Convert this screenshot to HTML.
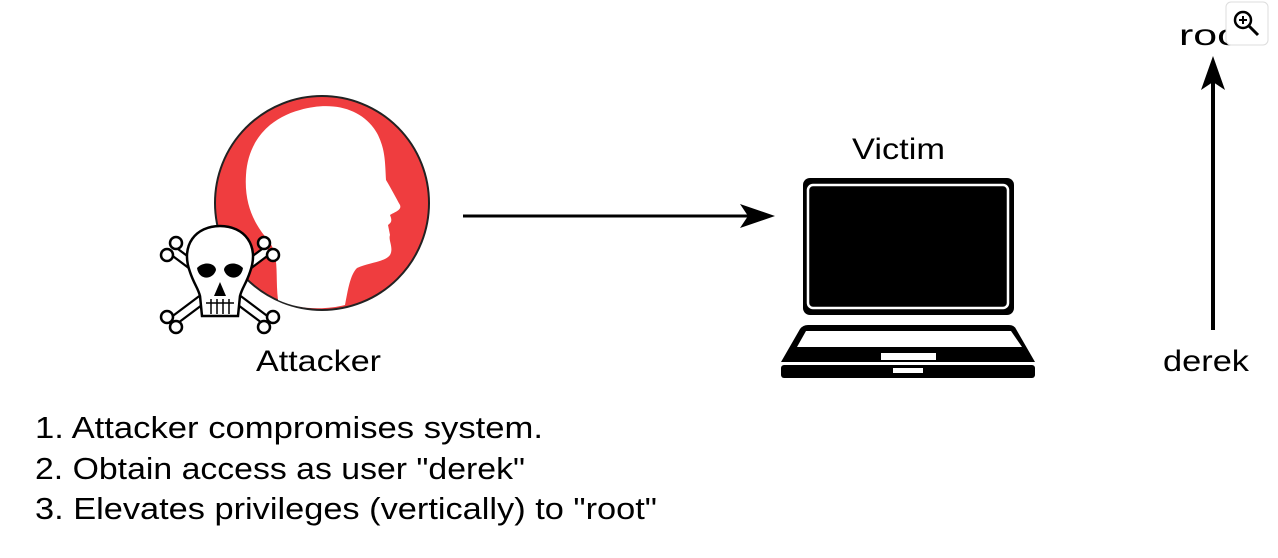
<!DOCTYPE html>
<html><head><meta charset="utf-8"><style>
html,body{margin:0;padding:0;background:#fff;width:1278px;height:558px;overflow:hidden}
svg{display:block}
text{font-family:"Liberation Sans",sans-serif;fill:#000}
</style></head><body>
<svg width="1278" height="558" viewBox="0 0 1278 558" xmlns="http://www.w3.org/2000/svg">
<!-- attacker circle -->
<circle cx="322" cy="203" r="107" fill="#ef3d3f" stroke="#222" stroke-width="2"/>
<path d="M345,305 C348,290 350,275 357,268 C370,262 385,262 390,255 C394,248 388,240 390,235 L388,225 C392,222 392,220 390,215 C395,212 402,210 400,205 C396,198 392,190 386,180 C385,160 385,150 378,135 C365,110 335,100 300,110 C270,118 248,140 246,175 C244,205 255,225 268,240 C280,255 275,275 278,300 C300,310 325,310 345,305 Z" fill="#fff"/>
<!-- skull and bones -->
<g stroke="#000" stroke-width="2.5" fill="#fff">
<path d="M172,250 L268,322 M268,250 L172,322" stroke-width="11" stroke="#000"/>
<path d="M172,250 L268,322 M268,250 L172,322" stroke-width="6.5" stroke="#fff"/>
<circle cx="167" cy="255" r="6"/><circle cx="176" cy="243" r="6"/>
<circle cx="273" cy="255" r="6"/><circle cx="264" cy="243" r="6"/>
<circle cx="167" cy="317" r="6"/><circle cx="176" cy="327" r="6"/>
<circle cx="273" cy="317" r="6"/><circle cx="264" cy="327" r="6"/>
<path d="M190,272 C180,245 196,226 220,226 C244,226 260,245 250,272 C246,284 242,288 240,296 L238,316 L202,316 L200,296 C198,288 194,284 190,272 Z"/>
</g>
<path d="M197,268 C205,260 216,264 216,270 C213,280 199,281 197,268 Z M243,268 C235,260 224,264 224,270 C227,280 241,281 243,268 Z M220,282 L214,296 L226,296 Z" fill="#000"/>
<path d="M206,303 L234,303 M211,299 L211,314 M217,299 L217,314 M223,299 L223,314 M229,299 L229,314" stroke="#000" stroke-width="1.5"/>
<!-- arrow -->
<line x1="463" y1="216" x2="755" y2="216" stroke="#000" stroke-width="3"/>
<path d="M775,216 L740,204 L748,216 L740,228 Z" fill="#000"/>
<!-- laptop -->
<rect x="803" y="178" width="211" height="137" rx="7" fill="#000"/>
<rect x="808" y="185" width="200" height="123" rx="5" fill="none" stroke="#fff" stroke-width="2.5"/>
<path d="M808,325 L1009,325 Q1014,325 1016,329 L1035,362 L781,362 L800,329 Q803,325 808,325 Z" fill="#000"/>
<path d="M806,331 L1011,331 L1022,347 L797,347 Z" fill="#fff"/>
<rect x="881" y="353" width="55" height="7" fill="#fff"/>
<rect x="781" y="365" width="254" height="13" rx="3" fill="#000"/>
<rect x="893" y="368" width="30" height="5" fill="#fff"/>
<!-- vertical arrow -->
<line x1="1213" y1="330" x2="1213" y2="80" stroke="#000" stroke-width="4"/>
<path d="M1213,56 L1201,90 L1213,82 L1225,90 Z" fill="#000"/>
<!-- labels -->
<text x="256" y="371" font-size="30" textLength="125" lengthAdjust="spacingAndGlyphs">Attacker</text>
<text x="852" y="159" font-size="30" textLength="93" lengthAdjust="spacingAndGlyphs">Victim</text>
<text x="1163" y="371" font-size="30" textLength="86" lengthAdjust="spacingAndGlyphs">derek</text>
<text x="1179" y="45" font-size="30" textLength="62" lengthAdjust="spacingAndGlyphs">roo</text>
<text x="35" y="438" font-size="31" textLength="508" lengthAdjust="spacingAndGlyphs">1. Attacker compromises system.</text>
<text x="35" y="479" font-size="31" textLength="490" lengthAdjust="spacingAndGlyphs">2. Obtain access as user "derek"</text>
<text x="35" y="519" font-size="31" textLength="622" lengthAdjust="spacingAndGlyphs">3. Elevates privileges (vertically) to "root"</text>
<!-- zoom button -->
<rect x="1226" y="2" width="42" height="43" rx="5" fill="#fff" stroke="#ddd" stroke-width="1"/>
<circle cx="1243" cy="20" r="8" fill="none" stroke="#000" stroke-width="2.5"/>
<line x1="1249" y1="26" x2="1258" y2="35" stroke="#000" stroke-width="3"/>
<path d="M1239,20 L1247,20 M1243,16 L1243,24" stroke="#000" stroke-width="2"/>
</svg>
</body></html>
